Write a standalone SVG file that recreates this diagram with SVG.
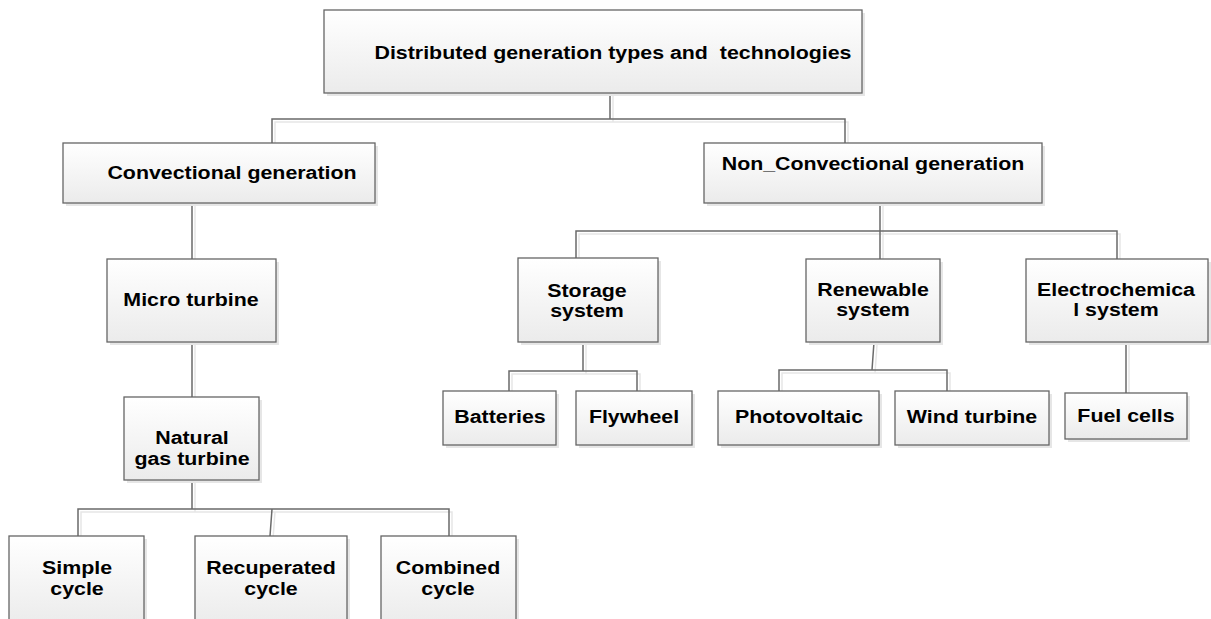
<svg xmlns="http://www.w3.org/2000/svg" width="1211" height="619" viewBox="0 0 1211 619">
  <defs>
    <linearGradient id="boxFill" x1="0" y1="0" x2="0" y2="1">
      <stop offset="0" stop-color="#ffffff"/>
      <stop offset="1" stop-color="#ebebeb"/>
    </linearGradient>
    <style>
      .box { fill: url(#boxFill); stroke: #666666; stroke-width: 1.3; }
      .shadow { fill: #e6e6e6; stroke: none; }
      .lbl { font-family: "Liberation Sans", Arial, sans-serif; font-weight: bold; font-size: 17.8px; fill: #000000; text-anchor: middle; }
      .wire { fill: none; stroke: #6a6a6a; stroke-width: 1.5; }
      .wire-shadow { fill: none; stroke: #e6e6e6; stroke-width: 1.5; }
    </style>
  </defs>
  <rect width="1211" height="619" fill="#ffffff"/>

  <!-- connectors -->
  <g id="connectors">
    <g transform="translate(3,3)" class="wire-shadow">
      <path d="M610 93V119M272 143V119H845V143"/>
      <path d="M192 203V259M192 342V397"/>
      <path d="M192 480V509M78 536V509H449V536M272 509L270 536"/>
      <path d="M880 203V259M576 258V231H1117V259"/>
      <path d="M583 342V371M509 391V371H637V391"/>
      <path d="M874 342L872 370M779 391V370H947V391"/>
      <path d="M1126 342V393"/>
    </g>
    <g class="wire">
      <path d="M610 93V119M272 143V119H845V143"/>
      <path d="M192 203V259M192 342V397"/>
      <path d="M192 480V509M78 536V509H449V536M272 509L270 536"/>
      <path d="M880 203V259M576 258V231H1117V259"/>
      <path d="M583 342V371M509 391V371H637V391"/>
      <path d="M874 342L872 370M779 391V370H947V391"/>
      <path d="M1126 342V393"/>
    </g>
  </g>

  <!-- root -->
  <g id="node-dg">
    <rect class="shadow" x="327" y="13" width="538" height="83"/>
    <rect class="box" x="324" y="10" width="538" height="83"/>
    <text class="lbl" transform="translate(613,59) scale(1.2,1)">Distributed generation types and&#160; technologies</text>
  </g>

  <g id="node-conv">
    <rect class="shadow" x="66" y="146" width="312" height="60"/>
    <rect class="box" x="63" y="143" width="312" height="60"/>
    <text class="lbl" transform="translate(232,179) scale(1.2,1)">Convectional generation</text>
  </g>

  <g id="node-nonconv">
    <rect class="shadow" x="707" y="146" width="338" height="60"/>
    <rect class="box" x="704" y="143" width="338" height="60"/>
    <text class="lbl" transform="translate(873,170) scale(1.2,1)">Non_Convectional generation</text>
  </g>

  <g id="node-micro">
    <rect class="shadow" x="110" y="262" width="169" height="83"/>
    <rect class="box" x="107" y="259" width="169" height="83"/>
    <text class="lbl" transform="translate(191,306) scale(1.2,1)">Micro turbine</text>
  </g>

  <g id="node-natgas">
    <rect class="shadow" x="127" y="400" width="135" height="83"/>
    <rect class="box" x="124" y="397" width="135" height="83"/>
    <text class="lbl" transform="translate(192,444) scale(1.2,1)">Natural</text>
    <text class="lbl" transform="translate(192,465) scale(1.2,1)">gas turbine</text>
  </g>

  <g id="node-simple">
    <rect class="shadow" x="12" y="539" width="135" height="90"/>
    <rect class="box" x="9" y="536" width="135" height="90"/>
    <text class="lbl" transform="translate(77,574) scale(1.2,1)">Simple</text>
    <text class="lbl" transform="translate(77,595) scale(1.2,1)">cycle</text>
  </g>

  <g id="node-recuperated">
    <rect class="shadow" x="198" y="539" width="152" height="90"/>
    <rect class="box" x="195" y="536" width="152" height="90"/>
    <text class="lbl" transform="translate(271,574) scale(1.2,1)">Recuperated</text>
    <text class="lbl" transform="translate(271,595) scale(1.2,1)">cycle</text>
  </g>

  <g id="node-combined">
    <rect class="shadow" x="384" y="539" width="135" height="90"/>
    <rect class="box" x="381" y="536" width="135" height="90"/>
    <text class="lbl" transform="translate(448,574) scale(1.2,1)">Combined</text>
    <text class="lbl" transform="translate(448,595) scale(1.2,1)">cycle</text>
  </g>

  <g id="node-storage">
    <rect class="shadow" x="521" y="261" width="140" height="84"/>
    <rect class="box" x="518" y="258" width="140" height="84"/>
    <text class="lbl" transform="translate(587,297) scale(1.2,1)">Storage</text>
    <text class="lbl" transform="translate(587,317) scale(1.2,1)">system</text>
  </g>

  <g id="node-renewable">
    <rect class="shadow" x="809" y="262" width="134" height="83"/>
    <rect class="box" x="806" y="259" width="134" height="83"/>
    <text class="lbl" transform="translate(873,296) scale(1.2,1)">Renewable</text>
    <text class="lbl" transform="translate(873,316) scale(1.2,1)">system</text>
  </g>

  <g id="node-electrochem">
    <rect class="shadow" x="1029" y="262" width="182" height="83"/>
    <rect class="box" x="1026" y="259" width="182" height="83"/>
    <text class="lbl" transform="translate(1116,296) scale(1.2,1)">Electrochemica</text>
    <text class="lbl" transform="translate(1116,316) scale(1.2,1)">l system</text>
  </g>

  <g id="node-batteries">
    <rect class="shadow" x="446" y="394" width="113" height="54"/>
    <rect class="box" x="443" y="391" width="113" height="54"/>
    <text class="lbl" transform="translate(500,423) scale(1.2,1)">Batteries</text>
  </g>

  <g id="node-flywheel">
    <rect class="shadow" x="579" y="394" width="116" height="54"/>
    <rect class="box" x="576" y="391" width="116" height="54"/>
    <text class="lbl" transform="translate(634,423) scale(1.2,1)">Flywheel</text>
  </g>

  <g id="node-pv">
    <rect class="shadow" x="721" y="394" width="161" height="54"/>
    <rect class="box" x="718" y="391" width="161" height="54"/>
    <text class="lbl" transform="translate(799,423) scale(1.2,1)">Photovoltaic</text>
  </g>

  <g id="node-wind">
    <rect class="shadow" x="898" y="394" width="154" height="54"/>
    <rect class="box" x="895" y="391" width="154" height="54"/>
    <text class="lbl" transform="translate(972,423) scale(1.2,1)">Wind turbine</text>
  </g>

  <g id="node-fuelcells">
    <rect class="shadow" x="1068" y="396" width="122" height="46"/>
    <rect class="box" x="1065" y="393" width="122" height="46"/>
    <text class="lbl" transform="translate(1126,422) scale(1.2,1)">Fuel cells</text>
  </g>
</svg>
